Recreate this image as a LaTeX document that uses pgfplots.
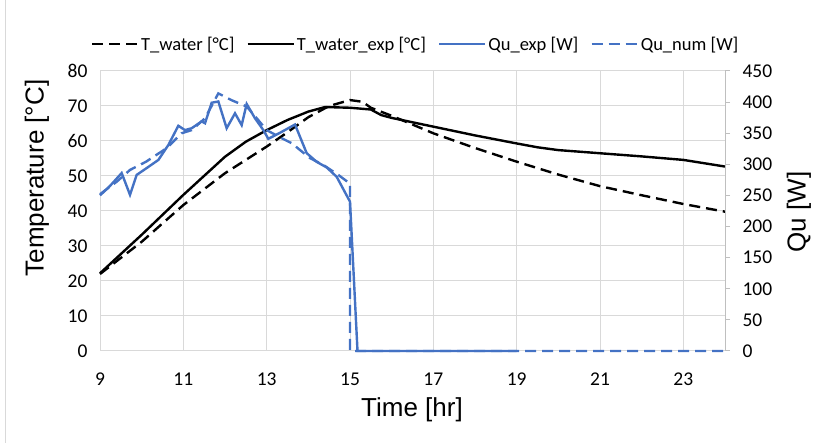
\documentclass[border=0pt]{standalone}
\usepackage{fontspec}
\setmainfont{Liberation Sans}
\newfontfamily\carlito{Carlito}
\usepackage{pgfplots}
\pgfplotsset{compat=1.18}
\definecolor{qublue}{HTML}{4472C4}
\definecolor{gridgray}{HTML}{D9D9D9}
\definecolor{axgray}{HTML}{BFBFBF}

\begin{document}
\begin{tikzpicture}
\path[use as bounding box] (0,0) rectangle (822pt,443pt);
\draw[gridgray, line width=1pt] (5pt,0) -- (5pt,443pt);

% left axis: water temperatures
\begin{axis}[
    at={(100pt,92pt)}, anchor=south west,
    scale only axis, width=625pt, height=280pt,
    xmin=9, xmax=24, ymin=0, ymax=80,
    xtick={9,11,...,23}, ytick={0,10,...,80},
    grid=major, grid style={gridgray, line width=1pt},
    axis line style={draw=none}, major tick length=0pt,
    tick label style={font=\carlito\fontsize{19.5}{21}\selectfont},
    /pgf/number format/assume math mode=true,
    yticklabel style={xshift=-9pt},
    xticklabel style={yshift=-18pt},
    clip=false,
]
\addplot[black, line width=2.4pt, dash pattern=on 11pt off 6pt] coordinates {
    (9,22) (10,31.2) (11,41.7) (12,50.8) (13,58.4) (13.5,62.5) (14,66.8)
    (14.5,70) (15,71.7) (15.3,71.2) (15.5,69.5) (16,67.2) (17,62.2) (18,58)
    (19,54.1) (20,50.4) (21,47.1) (22,44.5) (23,42) (24,39.8)
};
\addplot[black, line width=2.4pt] coordinates {
    (9,22.2) (10,33.2) (11,44.6) (12,55.5) (12.5,59.8) (13,63.1) (13.5,66)
    (14,68.4) (14.4,69.7) (15,69.5) (15.5,69) (15.75,67.4) (16,66.6) (17,64.1)
    (18,61.6) (19,59.3) (19.5,58.2) (20,57.4) (21,56.5) (22,55.6) (23,54.6) (24,52.7)
};
\end{axis}

% right axis: useful heat
\begin{axis}[
    at={(100pt,92pt)}, anchor=south west,
    scale only axis, width=625pt, height=280pt,
    xmin=9, xmax=24, ymin=0, ymax=450,
    ytick={0,50,...,450},
    axis x line=none, axis y line*=right,
    axis line style={-, axgray, line width=1pt},
    major tick style={axgray, line width=1pt},
    tick align=outside, major tick length=5pt,
    tick label style={font=\carlito\fontsize{19.5}{21}\selectfont},
    /pgf/number format/assume math mode=true,
    yticklabel style={xshift=9pt},
    clip=false,
    legend columns=4,
    legend style={at={(0.505,1.096)}, anchor=center, draw=none, fill=none,
        font=\carlito\fontsize{18.5}{20}\selectfont,
        /tikz/every even column/.append style={column sep=10pt}},
    legend image code/.code={\draw[#1] (0pt,0pt) -- (46pt,0pt);},
]
\addlegendimage{black, line width=2.4pt, dash pattern=on 11pt off 6pt}
\addlegendentry{T\_water [°C]}
\addlegendimage{black, line width=2.4pt}
\addlegendentry{T\_water\_exp [°C]}
\addplot[qublue, line width=2.4pt] coordinates {
    (9.0,250) (9.25,266) (9.52,286) (9.72,251) (9.88,283) (10.12,294) (10.4,307)
    (10.64,331) (10.88,362) (11.04,355) (11.2,358) (11.44,369) (11.52,366)
    (11.68,399) (11.84,401) (12.04,358) (12.24,382) (12.4,363) (12.52,397)
    (12.72,374) (12.92,355) (13.04,341) (13.3,350) (13.68,364) (13.96,318)
    (14.2,304) (14.44,295) (14.68,280) (15.0,240) (15.18,0) (19,0)
};
\addlegendentry{Qu\_exp [W]}
\addplot[qublue, line width=2.4pt, dash pattern=on 11pt off 6pt] coordinates {
    (9.0,252) (9.4,272) (9.72,291) (10.1,304) (10.6,326) (10.96,350) (11.2,355)
    (11.52,374) (11.84,414) (12.16,403) (12.52,393) (12.8,371) (13.0,355)
    (13.36,342) (13.6,334) (13.8,323) (14.04,310) (14.36,299) (14.72,283)
    (15.0,269) (15.0,0) (24,0)
};
\addlegendentry{Qu\_num [W]}
\end{axis}

\node[rotate=90, font=\fontsize{26}{28}\selectfont] at (37pt,265pt) {Temperature [°C]};
\node[rotate=90, font=\fontsize{26}{28}\selectfont] at (799pt,231pt) {Qu [W]};
\node[font=\fontsize{26}{28}\selectfont] at (412pt,33pt) {Time [hr]};
\end{tikzpicture}
\end{document}
